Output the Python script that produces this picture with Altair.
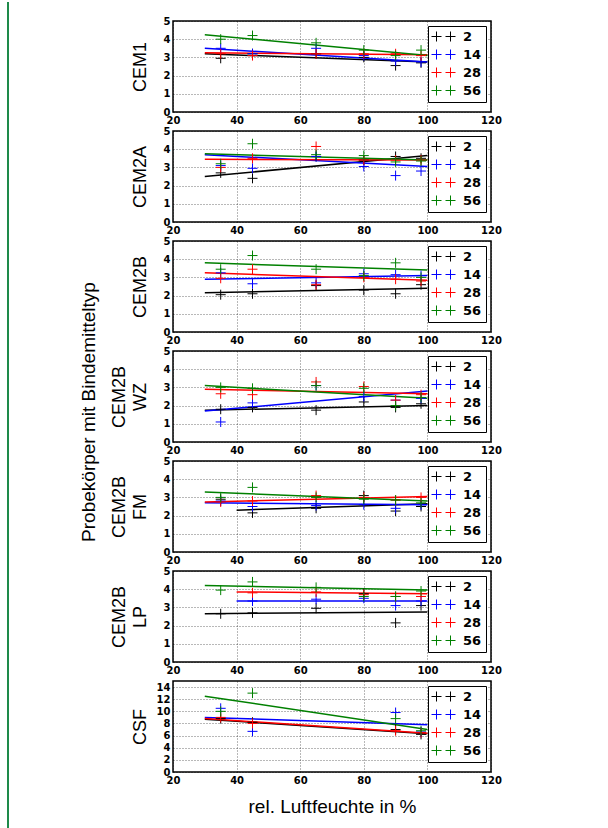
import altair as alt
import pandas as pd

# ---------------- data ----------------
x_pos = [35, 45, 65, 80, 90, 98]
ages = ["2", "14", "28", "56"]
colors = ["#000000", "#0000ff", "#ff0000", "#008000"]
x_ticks = [20, 40, 60, 80, 100, 120]

panel_titles = [["CEM1"], ["CEM2A"], ["CEM2B"], ["CEM2B", "WZ"],
                ["CEM2B", "FM"], ["CEM2B", "LP"], ["CSF"]]
y_max = [5, 5, 5, 5, 5, 5, 15]
y_ticks = [[0, 1, 2, 3, 4, 5]] * 6 + [[0, 2, 4, 6, 8, 10, 12, 14]]

cem1 = {"2": [2.95, 3.2, 3.2, 3.0, 2.55, 2.7],
        "14": [3.5, 3.2, 3.5, 3.1, 2.8, 2.75],
        "28": [3.2, 3.1, 3.2, 3.2, 3.2, 3.1],
        "56": [4.0, 4.2, 3.8, 3.4, 3.1, 3.4]}
cem2a = {"2": [2.7, 2.4, 3.6, 3.4, 3.6, 3.5],
         "14": [3.1, 2.95, 3.6, 3.05, 2.55, 2.8],
         "28": [3.0, 3.5, 4.15, 3.4, 3.4, 3.4],
         "56": [3.2, 4.3, 3.7, 3.65, 3.3, 3.35]}
cem2b = {"2": [2.05, 2.1, 2.55, 2.3, 2.1, 2.6],
         "14": [3.25, 2.65, 2.7, 3.2, 3.15, 3.1],
         "28": [2.95, 3.45, 2.6, 3.0, 2.9, 2.8],
         "56": [3.45, 4.2, 3.45, 3.1, 3.8, 3.0]}
cem2b_wz = {"2": [1.8, 1.9, 1.75, 2.2, 1.9, 2.1],
            "14": [1.1, 2.15, 3.1, 2.5, 2.3, 2.4],
            "28": [2.65, 2.6, 3.3, 3.05, 2.3, 2.6],
            "56": [3.0, 2.95, 3.1, 2.95, 2.0, 2.45]}
cem2b_fm = {"2": [2.9, 2.15, 2.4, 3.1, 2.25, 2.5],
            "14": [2.8, 2.5, 2.55, 2.6, 2.4, 2.6],
            "28": [2.75, 2.8, 3.1, 3.0, 2.85, 3.0],
            "56": [3.0, 3.55, 3.0, 2.9, 2.85, 2.7]}
cem2b_lp = {"2": [2.65, 2.7, 2.95, 3.75, 2.15, 3.1],
            "14": [None, 3.35, 3.45, 3.5, 3.1, 3.35],
            "28": [None, 3.8, 3.85, 3.7, 3.6, 3.6],
            "56": [3.95, 4.4, 4.1, 3.6, 3.6, 3.9]}
csf = {"2": [8.8, 8.2, None, None, 7.0, 6.2],
       "14": [10.5, 6.7, None, None, 9.8, 6.6],
       "28": [9.0, 8.0, None, None, 6.8, 6.5],
       "56": [10.0, 13.0, None, None, 8.8, 6.8]}

# fitted lines: (x start, y start, x end, y end)
fit_cem1 = {"2": (30, 3.2, 100, 2.75), "14": (30, 3.5, 100, 2.75),
            "28": (30, 3.25, 100, 3.15), "56": (30, 4.25, 100, 3.1)}
fit_cem2a = {"2": (30, 2.5, 100, 3.65), "14": (30, 3.7, 100, 3.05),
             "28": (30, 3.45, 100, 3.4), "56": (30, 3.75, 100, 3.4)}
fit_cem2b = {"2": (30, 2.15, 100, 2.4), "14": (30, 2.9, 100, 3.1),
             "28": (30, 3.25, 100, 2.85), "56": (30, 3.8, 100, 3.4)}
fit_cem2b_wz = {"2": (30, 1.75, 100, 2.0), "14": (30, 1.7, 100, 2.8),
                "28": (30, 2.9, 100, 2.65), "56": (30, 3.1, 100, 2.4)}
fit_cem2b_fm = {"2": (40, 2.3, 100, 2.65), "14": (30, 2.7, 100, 2.6),
                "28": (30, 2.75, 100, 3.05), "56": (30, 3.3, 100, 2.8)}
fit_cem2b_lp = {"2": (30, 2.65, 100, 2.75), "14": (40, 3.35, 100, 3.35),
                "28": (40, 3.85, 100, 3.75), "56": (30, 4.2, 100, 3.95)}
fit_csf = {"2": (30, 8.7, 100, 6.3), "14": (30, 9.0, 100, 7.8),
           "28": (30, 8.8, 100, 6.4), "56": (30, 12.5, 100, 7.0)}

points = [cem1, cem2a, cem2b, cem2b_wz, cem2b_fm, cem2b_lp, csf]
fits = [fit_cem1, fit_cem2a, fit_cem2b, fit_cem2b_wz, fit_cem2b_fm, fit_cem2b_lp, fit_csf]

x_title = "rel. Luftfeuchte in %"
y_title = "Probekörper mit Bindemitteltyp"

# ---------------- chart ----------------
PLUS = "M-1,0H1M0,-1V1"
PLUS2 = "M-2.4,0H-0.4M-1.4,-1V1M0.4,0H2.4M1.4,-1V1"
W, H = 318, 91
TFONT = "Liberation Sans"
LFONT = "DejaVu Sans"

color_scale = alt.Scale(domain=ages, range=colors)


def make_legend():
    return alt.Legend(orient="none", legendX=255, legendY=5,
                      title=None, symbolType=PLUS2,
                      symbolSize=100, symbolStrokeWidth=1,
                      symbolOffset=5, labelOffset=13,
                      labelFont=LFONT, labelFontSize=13,
                      labelFontWeight="bold", labelColor="black",
                      strokeColor="black", fillColor="white",
                      padding=4, rowPadding=3)


def make_panel(i):
    pts = points[i]
    fit = fits[i]
    rows = []
    for age in ages:
        for x, v in zip(x_pos, pts[age]):
            if v is not None:
                rows.append({"x": x, "y": v, "age": age})
    pdf = pd.DataFrame(rows)
    lrows = []
    for age in ages:
        x0, y0, x1, y1 = fit[age]
        lrows.append({"x": x0, "y": y0, "age": age})
        lrows.append({"x": x1, "y": y1, "age": age})
    ldf = pd.DataFrame(lrows)

    last = i == len(points) - 1
    nlines = len(panel_titles[i])
    x_enc = alt.X("x:Q", scale=alt.Scale(domain=[20, 120], nice=False, zero=False),
                  axis=alt.Axis(values=x_ticks, format="d",
                                title=x_title if last else None,
                                titleFont=TFONT, titleFontSize=19,
                                titleFontWeight="normal", titlePadding=12))
    y_enc = alt.Y("y:Q", scale=alt.Scale(domain=[0, y_max[i]], nice=False),
                  axis=alt.Axis(values=y_ticks[i], format="d",
                                title=panel_titles[i], titleFont=TFONT,
                                titleFontSize=18, titleFontWeight="normal",
                                titleX=-24 - 21 * (nlines - 1),
                                titleBaseline="bottom",
                                titleLineHeight=21))

    lines = alt.Chart(ldf).mark_line(strokeWidth=1.5).encode(
        x=x_enc, y=y_enc,
        color=alt.Color("age:N", scale=color_scale, legend=make_legend()),
        detail="age:N",
    )
    marks = alt.Chart(pdf).mark_point(shape=PLUS, filled=False, size=100,
                                      strokeWidth=1, opacity=1).encode(
        x=x_enc, y=y_enc,
        color=alt.Color("age:N", scale=color_scale, legend=make_legend()),
    )
    layers = [lines, marks]
    one = pd.DataFrame({"t": [y_title]})
    if i == 0:
        layers.append(alt.Chart(one).mark_rule(color="#1e8a4a", strokeWidth=2).encode(
            x=alt.value(-165), y=alt.value(-19), y2=alt.value(809)))
    if i == 3:
        layers.append(alt.Chart(one).mark_text(font=TFONT, fontSize=19, angle=270,
                                               align="center", baseline="middle",
                                               color="black").encode(
            text="t:N", x=alt.value(-84), y=alt.value(61)))
    return alt.layer(*layers).properties(width=W, height=H)


panels = [make_panel(i) for i in range(len(points))]

chart = alt.vconcat(*panels, spacing=19, bounds="flush").resolve_scale(
    color="independent").resolve_legend(color="independent").properties(
    padding={"left": 6, "top": 0, "right": 0, "bottom": 0},
    background="white",
).configure_view(stroke="black", strokeWidth=1.5).configure_axis(
    labelFont=LFONT, labelFontSize=10, labelFontWeight="bold", labelColor="black",
    labelPadding=3, ticks=False, domain=False, grid=True, gridDash=[1, 2],
    gridColor="#000000", gridOpacity=0.7, gridWidth=0.8, labelFlush=False,
    labelOverlap=False, titleColor="black",
)

chart.save("out.html", embed_options={"renderer": "svg", "actions": False})
